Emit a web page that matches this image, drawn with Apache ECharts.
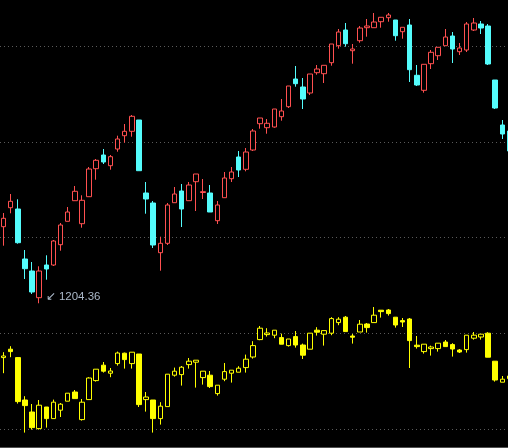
<!DOCTYPE html>
<html><head><meta charset="utf-8">
<script src="https://cdn.jsdelivr.net/npm/echarts@6/dist/echarts.min.js"></script>
<style>html,body{margin:0;padding:0;background:#000;}#c{width:508px;height:448px;}</style>
</head><body><div id="c"></div>
<script>
const categories = [1,2,3,4,5,6,7,8,9,10,11,12,13,14,15,16,17,18,19,20,21,22,23,24,25,26,27,28,29,30,31,32,33,34,35,36,37,38,39,40,41,42,43,44,45,46,47,48,49,50,51,52,53,54,55,56,57,58,59,60,61,62,63,64,65,66,67,68,69,70,71,72];

const topOpen = [1242.65,1252.15,1251.5,1226.5,1220.5,1207.15,1223.5,1223.5,1233.65,1245.35,1255.65,1244.15,1257.65,1271.65,1278.5,1273.15,1281.5,1288.15,1290.35,1296,1259.5,1254.5,1229.65,1234.35,1254.65,1260.5,1255.65,1265.15,1259.75,1259.5,1245.65,1257.15,1266.65,1277.5,1271.35,1281,1294.15,1292.15,1292.5,1297.65,1302.65,1316.5,1312.5,1309.5,1319.65,1319.15,1324.65,1333.15,1341,1330.65,1335.65,1342.15,1342.15,1345.15,1347.15,1346,1340.15,1343.5,1318.35,1310.85,1324.15,1328.15,1333.15,1338,1330.15,1331,1341,1344,1343,1316,1293.5,1290.5];
const topClose = [1246.85,1255.35,1234.65,1221.65,1210,1220.5,1221.5,1235.5,1243.5,1250,1260.35,1255.85,1271.5,1275.85,1275,1277.65,1286.5,1290.35,1297.85,1270.65,1256.5,1233.5,1234.35,1253.5,1259,1251.5,1263.5,1269,1260.15,1250,1253.5,1267,1270,1271,1280,1290.5,1297,1294.35,1301.5,1300.5,1313,1314.15,1306.5,1319,1321.5,1323.35,1334,1340,1334.15,1331.5,1342,1343,1345,1347.35,1348.5,1338.15,1342.35,1321.15,1313.5,1323.85,1329.85,1332.35,1337.5,1331.5,1332,1344,1344.5,1342,1324,1302,1289,1280.5];
const topLow = [1233.15,1249.35,1234.15,1216.5,1209,1204.36,1216.15,1223,1230.65,1245.35,1255.65,1242.15,1257.65,1266.15,1274,1271.15,1280.15,1284.65,1287.65,1270.65,1249.15,1232,1220.65,1233.5,1254.65,1242.5,1255.65,1250.5,1256.5,1250,1244,1257.15,1265,1267.5,1270.35,1280.5,1291.65,1289.15,1292.15,1295.65,1302,1312.65,1301.5,1308.5,1318.65,1314.5,1323.15,1331.65,1332.65,1324.15,1334.65,1337.65,1342.15,1342.15,1345.15,1335.65,1336.65,1315,1313,1309.65,1321.5,1326,1333.15,1324.5,1328.5,1330,1340.5,1339,1323.5,1301.5,1286.5,1280];
const topHigh = [1249.5,1259,1256.35,1231,1225,1222.85,1228.35,1236,1244.5,1252.5,1263,1258.35,1272.5,1276.5,1281.5,1278.5,1288.15,1294,1298.5,1296,1265,1255.5,1237.65,1254.5,1262.5,1264,1265,1269,1266.5,1263.5,1255.5,1270,1272.5,1280.5,1282,1291.5,1297,1296.5,1301.5,1306.5,1313,1323,1317,1319,1323.5,1323.35,1334,1341.5,1344.5,1334,1343,1346.5,1349.5,1347.35,1349.5,1346,1342.35,1346.5,1323.5,1323.85,1331,1332.35,1341.5,1340,1334.5,1345,1347,1345.5,1344,1316,1296,1291.5];

const botOpen = [8.52,8.94,8.52,6.4,5.8,4.97,6.05,5.47,5.89,6.34,6.8,5.42,6.42,7.37,8.14,7.74,8.22,8.74,8.22,8.7,6.42,6.4,5.47,6.07,7.64,7.67,8.17,8.29,7.52,7.64,6.72,7.44,7.74,7.79,8.02,8.55,9.42,9.67,9.64,9.52,9.12,9.57,9.15,8.94,9.89,9.69,9.74,10.27,10.54,9.6,9.8,10.2,10.27,10.89,10.9,10.54,10.37,10.45,9.14,8.82,8.97,8.97,9.3,9.17,8.9,8.92,9.49,9.55,9.74,8.34,7.29,7.47];
const botClose = [8.6,8.82,6.32,6.12,5.02,6.14,5.47,6.29,6.19,6.74,6.47,6.29,7.5,7.94,7.84,7.85,8.75,8.42,8.79,6.17,6.55,5.47,6.09,7.69,7.84,8.04,8.34,8.39,7.84,7.07,7.14,7.82,7.89,7.99,8.44,9.12,9.99,9.75,9.89,9.19,9.45,9.15,8.64,9.74,9.79,9.87,10.47,10.44,9.82,9.54,10.19,10.02,10.64,10.82,10.72,10.15,10.3,9.37,9.07,9.19,9.05,9.24,9.07,8.95,8.8,9.64,9.64,9.69,8.54,7.4,7.44,7.6];
const botLow = [7.74,8.54,6.22,4.77,4.92,4.92,5.02,5.47,5.55,6.34,6.47,5.37,6.42,7.32,7.77,7.54,8.12,7.97,7.97,6.05,5.82,4.77,5.17,6.07,7.57,7.12,7.97,7.02,7.17,7,6.62,7.34,7.27,7.79,7.77,8.47,9.39,9.57,9.49,9.19,9.07,9.02,8.45,8.94,9.62,9.12,9.64,10.14,9.82,9.22,9.8,9.77,10.27,10.52,10.62,10.02,10.05,8,8.97,8.72,8.62,8.82,9.07,8.57,8.75,8.77,9.42,9.42,8.54,7.32,7.29,7.4];
const botHigh = [8.79,9.09,8.54,6.59,6.2,6.4,6.05,6.42,6.25,6.74,6.9,6.45,7.54,7.94,8.3,8,8.82,8.77,8.79,8.7,6.8,6.4,6.29,7.69,8.02,8.1,8.5,8.39,7.84,7.85,7.14,8.25,7.89,8.09,8.67,9.34,10.1,9.99,9.89,9.72,9.45,9.85,9.22,9.74,10.04,9.87,10.54,10.54,10.6,9.7,10.4,10.25,11.05,10.89,10.95,10.54,10.5,10.5,9.6,9.19,9.12,9.24,9.4,9.24,8.95,9.64,9.8,9.69,9.79,8.34,7.6,7.65];

function ohlc(o, c, l, h) { return o.map((v, i) => [v, c[i], l[i], h[i]]); }

const chart = echarts.init(document.getElementById('c'), null, {renderer: 'canvas'});
chart.setOption({
  backgroundColor: '#000',
  animation: false,
  grid: [
    {left: 0, top: 0, width: 513, height: 447, outerBoundsMode: 'none', containLabel: false},
    {left: 0, top: 46, width: 508, height: 383, outerBoundsMode: 'none', containLabel: false}
  ],
  xAxis: [
    {type: 'category', gridIndex: 0, data: categories, boundaryGap: true,
     axisLine: {show: true, lineStyle: {color: '#505050', width: 1}},
     axisTick: {show: false}, axisLabel: {show: false}, splitLine: {show: false}},
    {type: 'value', gridIndex: 1, show: false, min: 0, max: 1}
  ],
  yAxis: [
    {type: 'value', gridIndex: 0, min: 1132.5, max: 1356, show: false, splitLine: {show: false}},
    {type: 'value', gridIndex: 0, min: 4.05, max: 26.4, show: false, splitLine: {show: false}},
    {type: 'value', gridIndex: 1, min: 0, max: 4, interval: 1,
     axisLine: {show: false}, axisTick: {show: false}, axisLabel: {show: false},
     splitLine: {show: true, lineStyle: {color: '#5a5a5a', width: 1, type: [1, 3]}}}
  ],
  series: [
    {
      type: 'candlestick', xAxisIndex: 0, yAxisIndex: 0,
      data: ohlc(topOpen, topClose, topLow, topHigh),
      barWidth: 5,
      itemStyle: {color: '#000', color0: '#54fcfc', borderColor: '#ff5050', borderColor0: '#54fcfc', borderWidth: 1},
      markPoint: {
        symbol: 'circle', symbolSize: 1,
        itemStyle: {color: 'rgba(0,0,0,0)'},
        label: {show: true, position: 'right', distance: 6, offset: [0, -6],
          formatter: (p) => '↙ ' + p.value, color: '#aab8c8', fontSize: 11.5, fontFamily: 'Liberation Sans'},
        data: [{type: 'min', valueDim: 'lowest'}]
      }
    },
    {
      type: 'candlestick', xAxisIndex: 0, yAxisIndex: 1,
      data: ohlc(botOpen, botClose, botLow, botHigh),
      barWidth: 5,
      itemStyle: {color: '#000', color0: '#ffff00', borderColor: '#ffff00', borderColor0: '#ffff00', borderWidth: 1}
    }
  ]
});
</script>
</body></html>
